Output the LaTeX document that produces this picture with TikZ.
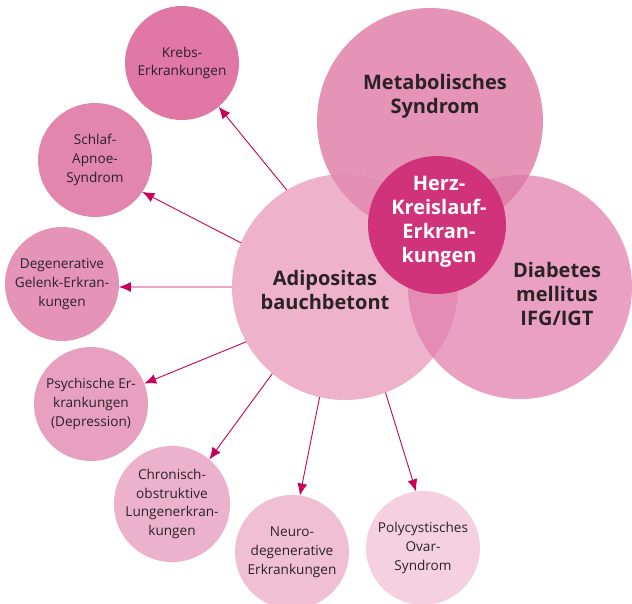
\documentclass[tikz,border=0pt]{standalone}
\usepackage{fontspec}
\setmainfont{Open Sans}
\usetikzlibrary{arrows.meta}
\definecolor{cmeta}{HTML}{E594B6}
\definecolor{cadip}{HTML}{EEB2CA}
\definecolor{cdiab}{HTML}{EAA0C0}
\definecolor{cma}{HTML}{E38FB4}
\definecolor{cmd}{HTML}{DF80AA}
\definecolor{cad}{HTML}{E58CB5}
\definecolor{cherz}{HTML}{D1337A}
\definecolor{carrow}{HTML}{C8005A}
\definecolor{ctext}{HTML}{2B2226}
\definecolor{ckrebs}{HTML}{E077A5}
\definecolor{cschlaf}{HTML}{E286AE}
\definecolor{cdegen}{HTML}{E593B6}
\definecolor{cpsych}{HTML}{E8A0C0}
\definecolor{cchron}{HTML}{EDB2CB}
\definecolor{cneuro}{HTML}{F0BFD4}
\definecolor{cpoly}{HTML}{F5D1E0}
\tikzset{
  bigcirc/.style={circle, draw=none, minimum size=226pt, inner sep=0pt, outer sep=0pt},
  smallcirc/.style={circle, draw=none, minimum size=114pt, inner sep=0pt, outer sep=0pt,
    text=ctext, align=center, font=\fontsize{13.6}{18.8}\selectfont},
  biglabel/.style={text=ctext, align=center, font=\fontsize{20}{24}\selectfont\bfseries},
  arr/.style={draw=carrow, line width=0.9pt, -{Latex[length=12pt,width=10pt]}}
}
\begin{document}
\begin{tikzpicture}[x=1pt,y=-1pt]
\useasboundingbox (0,0) rectangle (632,603);
% big circles
\node[bigcirc, fill=cmeta] (meta) at (430,121) {};
\node[bigcirc, fill=cadip] (adip) at (345,287) {};
\node[bigcirc, fill=cdiab, minimum size=224pt] (diab) at (520,287) {};
% overlaps
\begin{scope}
  \clip (meta.center) circle[radius=113pt];
  \fill[cma] (adip.center) circle[radius=113pt];
  \fill[cmd] (diab.center) circle[radius=112pt];
\end{scope}
\begin{scope}
  \clip (adip.center) circle[radius=113pt];
  \fill[cad] (diab.center) circle[radius=112pt];
\end{scope}
\node[circle, draw=none, fill=cherz, minimum size=138pt, inner sep=0pt, outer sep=0pt] (herz) at (437,225) {};
% big labels
\node[biglabel] (metaT) at (435,96) {Metabolisches\\Syndrom};
\node[biglabel] (adipT) at (325,290) {Adipositas\\bauchbetont};
\node[biglabel] (diabT) at (557,294) {Diabetes\\mellitus\\IFG/IGT};
\node[biglabel, text=white] (herzT) at (439,222) {Herz-\\Kreislauf-\\Erkran-\\kungen};
% small circles
\node[smallcirc, fill=ckrebs] (krebs) at (182,63) {Krebs-\\Erkrankungen};
\node[smallcirc, fill=cschlaf] (schlaf) at (95,160) {Schlaf-\\Apnoe-\\Syndrom};
\node[smallcirc, fill=cdegen] (degen) at (62,284) {Degenerative\\Gelenk-Erkran-\\kungen};
\node[smallcirc, fill=cpsych] (psych) at (91,404) {Psychische Er-\\krankungen\\(Depression)};
\node[smallcirc, fill=cchron] (chron) at (172,504) {Chronisch-\\obstruktive\\Lungenerkran-\\kungen};
\node[smallcirc, fill=cneuro] (neuro) at (292,552) {Neuro-\\degenerative\\Erkrankungen};
\node[smallcirc, fill=cpoly] (poly) at (423,548) {Polycystisches\\Ovar-\\Syndrom};
% arrows
\draw[arr] (adip.121) -- (krebs.-50);
\draw[arr] (adip.157) -- (schlaf.-34);
\draw[arr] (adip.180) -- (degen.-3);
\draw[arr] (adip.-151) -- (psych.21);
\draw[arr] (adip.-130) -- (chron.50);
\draw[arr] (adip.-103) -- (neuro.82);
\draw[arr] (adip.-69) -- (poly.97);
\end{tikzpicture}
\end{document}
